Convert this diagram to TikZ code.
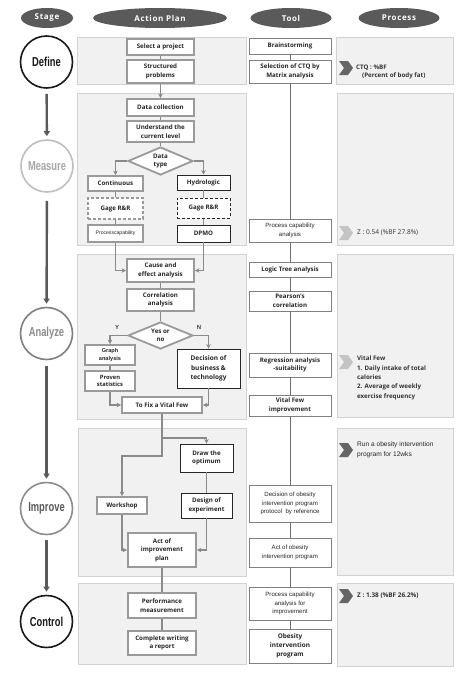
\documentclass[tikz,border=0pt]{standalone}
\usepackage{fontspec}
\usepackage{graphicx}
\setmainfont{Open Sans}
\newfontfamily\narrowfont{Liberation Sans}
\newfontfamily\stagefont{Liberation Sans}
\newfontfamily\hdrfont{Open Sans}[LetterSpace=8]
\usetikzlibrary{shapes.geometric,arrows.meta,calc}
\definecolor{panelfill}{HTML}{F1F1F1}
\definecolor{paneldraw}{HTML}{D2D2D2}
\definecolor{boxgray}{HTML}{9A9A9A}
\definecolor{linegray}{HTML}{8A8A8A}
\definecolor{toolline}{HTML}{6E6E6E}
\definecolor{hdrfill}{HTML}{5A5A5A}
\definecolor{stagearrow}{HTML}{5A5A5A}
\definecolor{chevdark}{HTML}{666666}
\definecolor{chevlight}{HTML}{C4C4C4}
\newcommand\stagelabel[1]{\scalebox{0.72}[1]{\stagefont\bfseries\fontsize{13}{14}\selectfont #1}}
\newcommand\mychev[3]{\fill[#3] (#1,#2) -- ++(9,0) -- ++(5,7) -- ++(-5,7) -- ++(-9,0) -- ++(5,-7) -- cycle;}
\tikzset{
  panel/.style={fill=panelfill, draw=paneldraw, line width=0.8pt},
  bf/.style={font=\bfseries\fontsize{6.2}{8.6}\selectfont},
  nf/.style={font=\narrowfont\fontsize{6.1}{8.4}\selectfont},
  abox/.style={draw=boxgray, line width=1.8pt, fill=white, align=center, inner sep=0pt, bf, text=black!85},
  bbox/.style={draw=black!85, line width=0.9pt, fill=white, align=center, inner sep=0pt, bf, text=black!85},
  dbox/.style={fill=white, align=center, inner sep=0pt, bf, text=black!85, dash pattern=on 3pt off 2pt},
  tbox/.style={draw=black!50, line width=0.6pt, fill=white, align=center, inner sep=0pt, minimum width=82pt, bf, text=black!85},
  dia/.style={diamond, draw=boxgray, line width=1.8pt, fill=white, align=center, inner sep=0pt, bf, aspect=2.35, text=black!85},
  flow/.style={draw=linegray, line width=1.2pt},
  arr/.style={flow, -{Stealth[length=4.5pt,width=4.5pt]}},
  tline/.style={draw=toolline, line width=0.9pt},
  stage/.style={circle, line width=1.6pt, fill=white, minimum size=52pt, inner sep=0pt},
  stagearr/.style={draw=stagearrow, line width=2.4pt, -{Triangle[length=5pt,width=6pt]}, shorten <=5pt, shorten >=3pt},
  hdr/.style={ellipse, fill=hdrfill, text=white, inner sep=0pt, minimum height=20pt, font=\hdrfont\bfseries\fontsize{8}{9}\selectfont},
  ptext/.style={anchor=west, inner sep=0pt, text=black!80},
}
\begin{document}
\begin{tikzpicture}[x=1pt,y=-1pt]
\useasboundingbox (0,0) rectangle (474,675);
\fill[white] (0,0) rectangle (474,675);

% headers
\node[hdr, minimum width=52pt] (hstage) at (47,18) {Stage};
\node[hdr, minimum width=134pt] (hact) at (160,18) {Action Plan};
\node[hdr, minimum width=81pt] (htool) at (291,18) {Tool};
\node[hdr, minimum width=81pt] (hproc) at (399,18) {Process};

% panels
\draw[panel] (77,37) rectangle (246,84);
\draw[panel] (336,37) rectangle (453,84);
\draw[panel] (77,93) rectangle (246,245);
\draw[panel] (337,93) rectangle (453,245);
\draw[panel] (77,254) rectangle (246,419);
\draw[panel] (337,254) rectangle (453,417);
\draw[panel] (78,428) rectangle (246,576);
\draw[panel] (337,428) rectangle (453,575);
\draw[panel] (78,583) rectangle (246,664);
\draw[panel] (337,583) rectangle (453,666);

% stage circles
\node[stage, draw=black!90, text=black!90] (define) at (46.5,62) {\stagelabel{Define}};
\node[stage, draw=black!25, text=black!35] (measure) at (47,166) {\stagelabel{Measure}};
\node[stage, draw=black!50, text=black!45] (analyze) at (46.5,333.5) {\stagelabel{Analyze}};
\node[stage, draw=black!45, text=black!65] (improve) at (46.5,508.5) {\stagelabel{Improve}};
\node[stage, draw=black!90, text=black!90] (control) at (46.5,621.5) {\stagelabel{Control}};
\draw[stagearr] (define) -- (measure);
\draw[stagearr, shorten <=8pt] (measure) -- (analyze);
\draw[stagearr, shorten <=6pt] (analyze) -- (improve);
\draw[stagearr, shorten <=5pt] (improve) -- (control);

% ---- Define
\node[abox, minimum width=67pt, minimum height=16pt] (sel) at (160.5,47) {Select a project};
\node[abox, minimum width=67pt, minimum height=23pt] (struc) at (160.5,71.5) {Structured\\problems};
\node[tbox, minimum height=16pt] (brain) at (290,46) {Brainstorming};
\node[tbox, minimum height=23pt] (ctq) at (290,71.5) {Selection of CTQ by\\Matrix analysis};

% ---- Measure
\node[abox, minimum width=67pt, minimum height=17pt] (dc) at (160.5,107.5) {Data collection};
\node[abox, minimum width=67pt, minimum height=21pt] (und) at (160.5,131.5) {Understand the\\current level};
\node[dia, minimum width=65pt, minimum height=28pt] (dt) at (160.5,161) {Data\\type};
\node[abox, minimum width=55pt, minimum height=15pt] (cont) at (115.5,183.5) {Continuous};
\node[bbox, minimum width=53pt, minimum height=15pt] (hyd) at (203.5,182.5) {Hydrologic};
\node[dbox, draw=boxgray, line width=1.6pt, minimum width=55pt, minimum height=21pt] (gl) at (115.5,208.5) {Gage R\&R};
\node[dbox, draw=black!85, line width=1pt, minimum width=53pt, minimum height=20pt] (gr) at (203.5,208) {Gage R\&R};
\node[abox, minimum width=55pt, minimum height=17pt, font=\narrowfont\fontsize{5.1}{6}\selectfont] (pcl) at (115.5,233.5) {Processcapability};
\node[bbox, minimum width=53pt, minimum height=17pt] (dpmo) at (203.5,233.5) {DPMO};
\node[tbox, minimum height=23pt, nf] (pca) at (290,230.5) {Process capability\\analysis};

% ---- Analyze
\node[abox, minimum width=67pt, minimum height=23pt] (cause) at (160.5,270.5) {Cause and\\effect analysis};
\node[abox, minimum width=67pt, minimum height=22pt] (corr) at (160.5,300) {Correlation\\analysis};
\node[dia, minimum width=65pt, minimum height=27pt] (yn) at (160.5,335.5) {Yes or\\no};
\node[abox, minimum width=50pt, minimum height=20pt, font=\narrowfont\bfseries\fontsize{5.6}{7.2}\selectfont] (graph) at (110,355) {Graph\\analysis};
\node[abox, minimum width=50pt, minimum height=20pt, font=\bfseries\fontsize{5.8}{7.4}\selectfont] (proven) at (110,381) {Proven\\statistics};
\node[bbox, minimum width=63pt, minimum height=39pt, font=\bfseries\fontsize{6.5}{9.4}\selectfont] (dec) at (208.5,368.5) {Decision of\\business \&\\technology};
\node[abox, minimum width=80pt, minimum height=16pt] (fix) at (162,405) {To Fix a Vital Few};
\node[font=\narrowfont\bfseries\fontsize{6}{7}\selectfont, text=black!75, inner sep=0pt] (ylab) at (117,327) {Y};
\node[font=\narrowfont\bfseries\fontsize{6}{7}\selectfont, text=black!75, inner sep=0pt] (nlab) at (199,327) {N};
\node[tbox, minimum height=15pt] (logic) at (290,269.5) {Logic Tree analysis};
\node[tbox, minimum height=20pt] (pear) at (290,301) {Pearson's\\correlation};
\node[tbox, minimum height=24pt] (reg) at (290,365) {Regression analysis\\-suitability};
\node[tbox, minimum height=21pt] (vfi) at (290,405.5) {Vital Few\\improvement};

% ---- Improve
\node[bbox, minimum width=53pt, minimum height=28pt] (draw) at (206.5,458) {Draw the\\optimum};
\node[bbox, minimum width=51pt, minimum height=25pt] (design) at (206.5,505.5) {Design of\\experiment};
\node[abox, minimum width=50pt, minimum height=17pt] (work) at (122,505.5) {Workshop};
\node[abox, minimum width=68pt, minimum height=34pt] (act) at (162,550) {Act of\\improvement\\plan};
\node[tbox, minimum height=37pt, nf] (dobes) at (290,503.5) {Decision of obesity\\intervention program\\protocol\ \ by reference};
\node[tbox, minimum height=29pt, nf] (actob) at (290,552.5) {Act of obesity\\intervention program};

% ---- Control
\node[abox, minimum width=68pt, minimum height=25pt] (perf) at (162,605.5) {Performance\\measurement};
\node[abox, minimum width=68pt, minimum height=24pt] (comp) at (162,643) {Complete writing\\a report};
\node[tbox, minimum height=33pt, nf] (pcai) at (290,603.5) {Process capability\\analysis for\\improvement};
\node[tbox, minimum height=34pt, font=\bfseries\fontsize{6.4}{9}\selectfont] (obp) at (290,646) {Obesity\\intervention\\program};

% tool column line
\foreach \a/\b in {brain/ctq, ctq/pca, pca/logic, logic/pear, pear/reg, reg/vfi, vfi/dobes, dobes/actob, actob/pcai, pcai/obp}
  \draw[tline] (\a) -- (\b);

% action plan connectors
\draw[flow] (sel) -- (struc);
\draw[arr] (struc) -- (dc);
\draw[flow] (dc) -- (und);
\draw[flow] (und) -- (dt);
\draw[arr] (dt.west) -| (cont.north);
\draw[arr] (dt.east) -| (hyd.north);
\draw[flow] (cont) -- (gl);
\draw[flow] (gl) -- (pcl);
\draw[flow] (hyd) -- (gr);
\draw[flow] (gr) -- (dpmo);
\draw[arr] (pcl.south) |- (cause.west);
\draw[arr] (dpmo.south) |- (cause.east);
\draw[flow] (cause) -- (corr);
\draw[flow] (corr) -- (yn);
\draw[arr] (yn.west) -| (graph.north);
\draw[arr] (yn.east) -| (dec.north);
\draw[flow] (graph) -- (proven);
\draw[arr] (proven.south) |- (fix.west);
\draw[arr] (dec.south) |- (fix.east);
\path (fix.south) ++(0,24) coordinate (br1);
\draw[arr] (fix.south) -- ++(0,42) -| (work.north);
\draw[arr] (br1) -| (draw.north);
\draw[flow] (draw) -- (design);
\draw[arr] (work.south) |- (act.west);
\draw[arr] (design.south) |- (act.east);
\draw[flow] (act) -- (perf);
\draw[flow] (perf) -- (comp);

% process column
\mychev{339}{61}{chevdark}
\node[ptext, font=\bfseries\fontsize{6.2}{7}\selectfont] (p1a) at (356,67.5) {CTQ : \%BF};
\node[ptext, font=\bfseries\fontsize{6.2}{7}\selectfont] (p1b) at (362,76) {(Percent of body fat)};
\mychev{339}{226}{chevlight}
\node[ptext, font=\fontsize{6.6}{7}\selectfont] (p2) at (357,232.5) {Z : 0.54 (\%BF 27.8\%)};
\mychev{339}{355}{chevlight}
\node[anchor=north west, inner sep=0pt, align=left, text=black!80, font=\bfseries\fontsize{6.2}{9.3}\selectfont] (p3) at (357,356) {Vital Few\\1. Daily intake of total\\calories\\2. Average of weekly\\exercise frequency};
\mychev{339}{443}{chevdark}
\node[anchor=north west, inner sep=0pt, align=left, text=black!85, font=\narrowfont\fontsize{6.6}{10}\selectfont] (p4) at (357,442) {Run a obesity intervention\\program for 12wks};
\mychev{339}{589}{chevdark}
\node[ptext, font=\bfseries\fontsize{6.4}{7}\selectfont] (p5) at (357,595.5) {Z : 1.38 (\%BF 26.2\%)};
\end{tikzpicture}
\end{document}
